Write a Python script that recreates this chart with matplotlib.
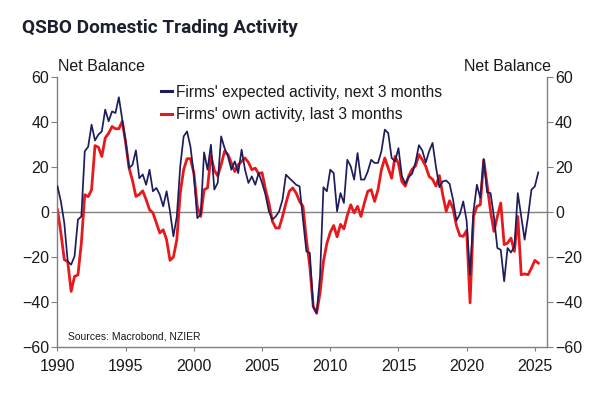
import numpy as np
import pandas as pd
import matplotlib
matplotlib.use("Agg")
import matplotlib.pyplot as plt

# Quarterly observations, 1990Q1 onward
quarters = pd.period_range("1990Q1", periods=142, freq="Q")

expected_activity = [
    11.4, 4.7, -4.9, -22, -23.4, -19.7, -3.4, -2, 27, 29,
    38.8, 31.8, 34.4, 35.8, 45.5, 40.3, 44.7, 44, 51, 41,
    31.4, 19.5, 21, 27.4, 15, 16.7, 12.1, 18.8, 9.2, 10.7,
    7.7, 2.5, 9.2, 0.3, -10.8, -2, 20.3, 33.6, 35.8, 29,
    16.5, -2.7, -1, 26.5, 18.8, 29.9, 10, 13, 33.6, 28.4,
    24.7, 18.8, 22.5, 17.3, 27.7, 18.8, 12.9, 15.8, 12.1, 17.3,
    12.9, 7.7, 0.3, -3.4, -2, 0.3, 5.5, 16.6, 15, 13.6,
    12.1, 11.4, -3.4, -17.5, -18.2, -42, -44.9, -28.6, 11, 9.2,
    18.8, 17.3, 0.3, 8.4, 4, 23.2, 20.3, 14.4, 26.2, 14.4,
    14.4, 18, 23.2, 21.8, 21.8, 27, 36.6, 35.1, 24, 22.5,
    28.4, 16, 12.5, 15.5, 17, 22, 29.7, 27.3, 22, 27,
    30.7, 20, 11, 13.6, 14, 12.5, 5.5, -3.8, -1, 4.7,
    -4, -27.9, 0.3, 12.1, 6.2, 23.5, 8.7, 8.4, -2, -16,
    -16.8, -30.8, -16, -18, -15.3, 8.4, -2, -12.3, -2, 9.9,
    11.4, 17.6,
]

own_activity = [
    1, -9.3, -21.2, -22, -35.3, -28.6, -28, -13.8, 7.7, 6.8,
    9.9, 29.5, 28.8, 24.7, 32.9, 35, 38, 37, 37, 40.3,
    30.7, 19.5, 14, 6.9, 7.8, 9.4, 5.5, 1, -0.4, -4.9,
    -9.3, -7.9, -12.3, -21.5, -20, -12.3, 8.4, 18.8, 23.7, 23.7,
    17.3, 2.5, -2, 9.9, 10.7, 25, 18.5, 16, 21, 27,
    25.5, 21.8, 18, 21, 22.5, 24, 22, 18.8, 19.5, 17,
    17.5, 10, 4, -4, -7.1, -7.1, -2, 4, 9.2, 10.7,
    8.4, 4.7, 2.5, -12.3, -24.2, -42, -45, -36, -22, -14,
    -9, -6, -11, -5.5, -7.5, -1.5, 3.2, -0.4, 2.5, -2,
    4, 9.2, 9.9, 4.7, 9.9, 18.8, 24, 19.5, 15, 24.7,
    21.5, 13.5, 11.5, 16, 19, 20.5, 25.5, 23.2, 20.3, 15.8,
    14.5, 11.5, 16.2, 7.5, 0.3, 5, 1.5, -6, -10.5, -10.8,
    -8.2, -40.4, -2, 2.5, 3.2, 23.2, 12.1, 0.3, -8.6, -2,
    4, -14.5, -13.8, -11.6, -17.5, -2, -27.9, -27.5, -27.9, -24.9,
    -21.5, -22.7,
]

series_labels = ["Firms' expected activity, next 3 months",
                 "Firms' own activity, last 3 months"]
y_ticks = [-60, -40, -20, 0, 20, 40, 60]
x_ticks = [1990, 1995, 2000, 2005, 2010, 2015, 2020, 2025]

x = quarters.year + (quarters.quarter - 1) / 4.0

NAVY = "#1e1d5c"
RED = "#e8191c"
GREY = "#808080"
TXT = "#1a1a1a"

plt.rcParams["font.family"] = ["Liberation Sans", "DejaVu Sans"]

fig = plt.figure(figsize=(6.0, 3.94), dpi=100)
ax = fig.add_axes([0.0958, 0.1193, 0.8154, 0.6853])

ax.axhline(0, color=GREY, lw=1.0, zorder=1)
l2, = ax.plot(x, own_activity, color=RED, lw=2.0, zorder=2,
              label=series_labels[1])
l1, = ax.plot(x, expected_activity, color=NAVY, lw=1.25, zorder=3,
              label=series_labels[0])

ax.set_xlim(1990, 2025.87)
ax.set_ylim(-60, 60)
ax.set_yticks(y_ticks)
ax.set_xticks(x_ticks)
ax.tick_params(axis="y", which="both", direction="out", length=4, width=0.8,
               color=GREY, labelsize=11.5, labelcolor=TXT, pad=2,
               left=True, right=True, labelleft=True, labelright=True)
ax.tick_params(axis="x", direction="out", length=3, width=0.8, color=GREY,
               labelsize=11.5, labelcolor=TXT, pad=6)

for side in ["left", "right", "bottom"]:
    ax.spines[side].set_color(GREY)
    ax.spines[side].set_linewidth(1.0)
ax.spines["top"].set_visible(False)

leg = ax.legend(handles=[l1, l2], loc="upper left",
                bbox_to_anchor=(0.198, 0.995), frameon=False,
                fontsize=11.2, handlelength=0.72, handletextpad=0.25,
                labelspacing=0.5, borderaxespad=0, labelcolor=TXT)
for h in leg.get_lines():
    h.set_linewidth(2.2)

fig.text(0.0967, 0.832, "Net Balance", fontsize=11.5, color=TXT,
         ha="left", va="center")
fig.text(0.918, 0.832, "Net Balance", fontsize=11.5, color=TXT,
         ha="right", va="center")
fig.text(0.113, 0.147, "Sources: Macrobond, NZIER", fontsize=7.5,
         color=TXT, ha="left", va="center")

fig.text(0.037, 0.928, "QSBO Domestic Trading Activity",
         fontsize=13.7, fontweight="bold", color="#1b1f2e",
         family=["Roboto", "DejaVu Sans"], ha="left", va="center")

fig.savefig("out.png", dpi=100, facecolor="white")
